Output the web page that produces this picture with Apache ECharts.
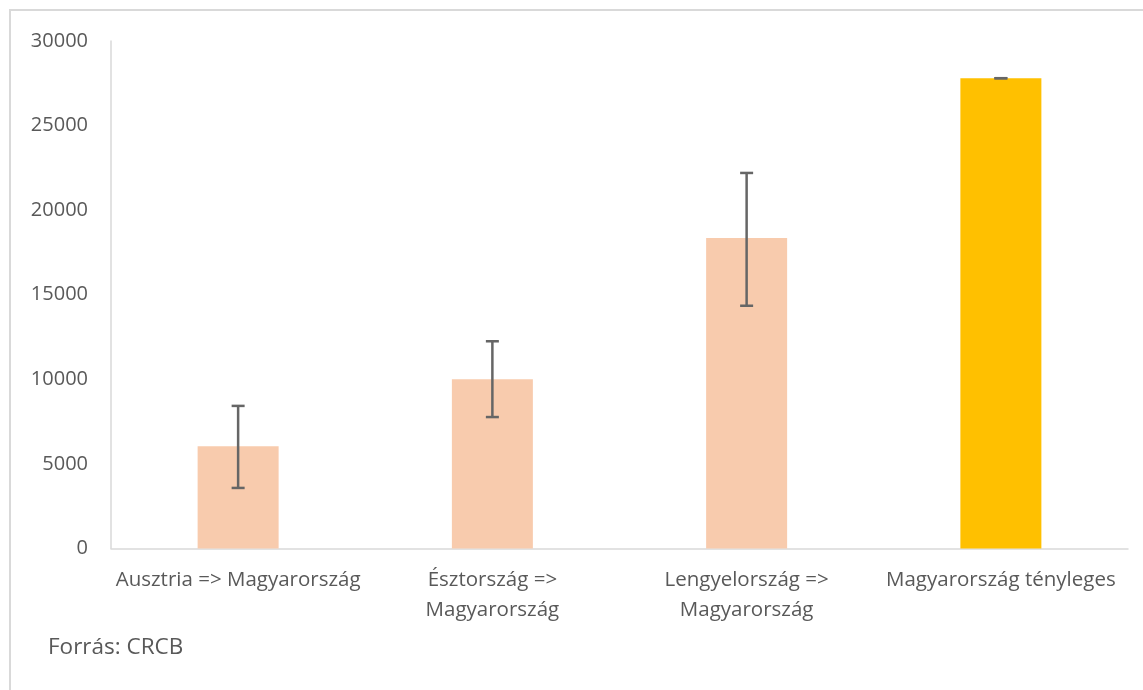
<!DOCTYPE html>
<html>
<head>
<meta charset="utf-8">
<script src="https://cdn.jsdelivr.net/npm/echarts@6/dist/echarts.min.js"></script>
<style>
html,body{margin:0;padding:0;background:#fff;}
#chart{width:1143px;height:690px;}
</style>
</head>
<body>
<div id="chart"></div>
<script>
const categories = ['Ausztria => Magyarország', 'Észtország =>\nMagyarország', 'Lengyelország =>\nMagyarország', 'Magyarország tényleges'];
const values = [6050, 10000, 18350, 27800];
const errorHigh = [8430, 12250, 22200, 27800];
const errorLow = [3580, 7770, 14350, 27800];
const barColors = ['#F8CBAD', '#F8CBAD', '#F8CBAD', '#FFC000'];
const yTicks = { min: 0, max: 30000, interval: 5000 };
const sourceText = 'Forrás: CRCB';

const font = '"Open Sans", "DejaVu Sans", sans-serif';
const chart = echarts.init(document.getElementById('chart'), null, { renderer: 'canvas' });

const errData = categories.map((c, i) => [i, errorLow[i], errorHigh[i]]);

chart.setOption({
  animation: false,
  backgroundColor: '#fff',
  grid: { left: 111, right: 15, top: 41, bottom: 141.5, containLabel: false },
  xAxis: {
    type: 'category',
    data: categories,
    axisLine: { show: true, lineStyle: { color: '#D9D9D9', width: 1.5 } },
    axisTick: { show: false },
    axisLabel: { color: '#595959', fontFamily: font, fontSize: 20.5, lineHeight: 30, margin: 17, interval: 0 }
  },
  yAxis: {
    type: 'value',
    min: yTicks.min, max: yTicks.max, interval: yTicks.interval,
    axisLine: { show: true, lineStyle: { color: '#D9D9D9', width: 1.5 } },
    axisTick: { show: false },
    splitLine: { show: false },
    axisLabel: { color: '#595959', fontFamily: font, fontSize: 20, margin: 23, formatter: function (v) { return String(v); } }
  },
  graphic: [
    { type: 'rect', shape: { x: 10, y: 10, width: 1300, height: 900 }, style: { fill: 'none', stroke: '#D9D9D9', lineWidth: 2 }, silent: true, z: -1 },
    { type: 'text', left: 48, top: 636, style: { text: sourceText, fill: '#595959', font: '22.5px ' + font } }
  ],
  series: [
    {
      type: 'bar',
      data: values.map((v, i) => ({ value: v, itemStyle: { color: barColors[i] } })),
      barWidth: 81
    },
    {
      type: 'custom',
      data: errData,
      z: 10,
      renderItem: function (params, api) {
        const x = api.value(0);
        const lo = api.coord([x, api.value(1)]);
        const hi = api.coord([x, api.value(2)]);
        const half = 6.5;
        const st = { stroke: '#666666', lineWidth: 2.5 };
        return {
          type: 'group',
          children: [
            { type: 'line', shape: { x1: hi[0], y1: hi[1], x2: lo[0], y2: lo[1] }, style: st },
            { type: 'line', shape: { x1: hi[0] - half, y1: hi[1], x2: hi[0] + half, y2: hi[1] }, style: st },
            { type: 'line', shape: { x1: lo[0] - half, y1: lo[1], x2: lo[0] + half, y2: lo[1] }, style: st }
          ]
        };
      }
    }
  ]
});
</script>
</body>
</html>
